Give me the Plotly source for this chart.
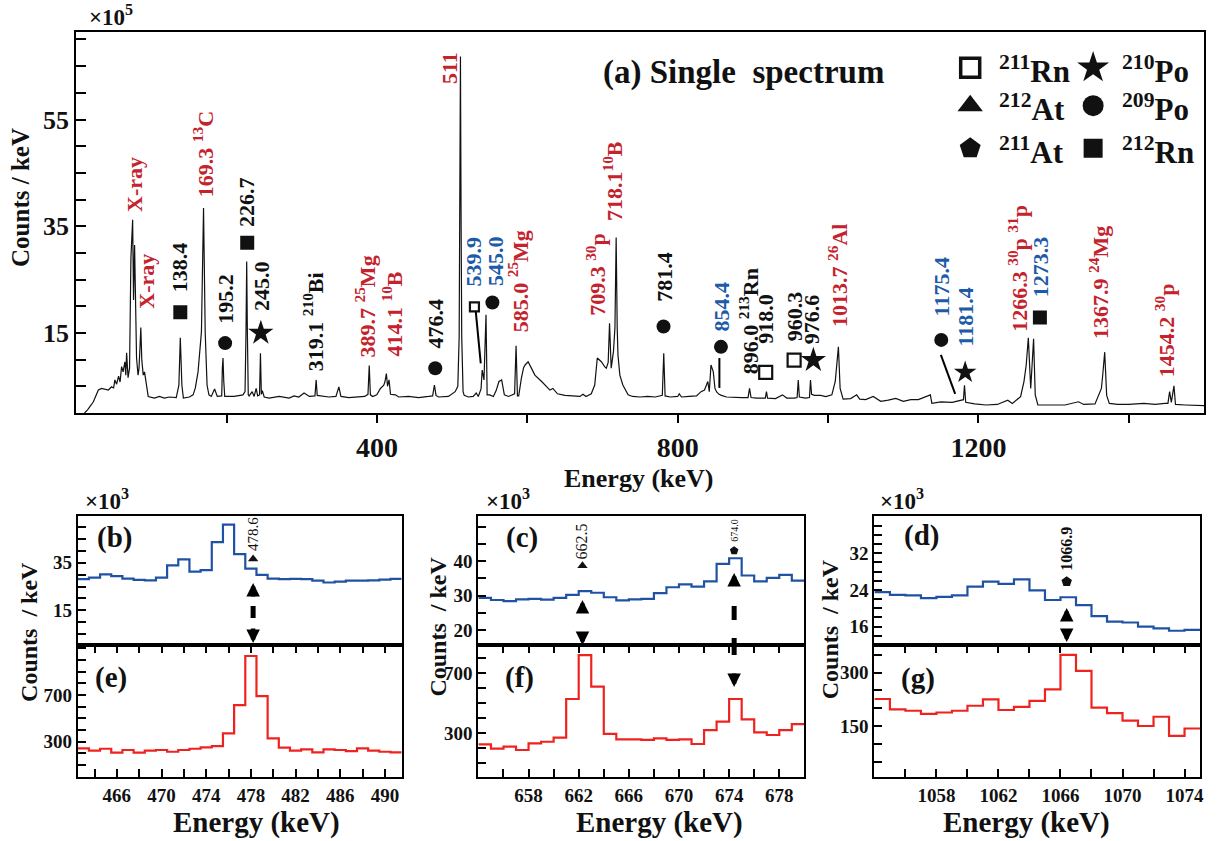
import plotly.graph_objects as go

W, H = 1217, 841
FONT = "Liberation Serif"
RED_T = "#c4222c"
BLUE_T = "#1d5aa8"
BLACK = "#111111"
LINE_BLUE = "#1f52a3"
LINE_RED = "#ee2320"

# ---------------- data: main single spectrum (x10^5 counts/keV) ----------------
spec_energy = [11, 15, 22.8, 29.4, 33.8, 37.8, 42.7, 47, 49.7, 51.4, 53.7, 56.3, 58.3, 60.3, 62.3, 64.7,
               65.9, 67, 68.9, 70.9, 72.7, 75, 76.2, 77.6, 79.3, 80.2, 82.2, 83.5, 84.6, 85.9, 87.2, 89.1,
               90.8, 93.5, 95.7, 104, 110.7, 117, 124, 133, 136.5, 138.4, 140.5, 142.5, 150.5, 155.4, 158.4,
               162, 166.5, 169.3, 171.5, 174, 176.5, 179.6, 184, 187.6, 193.5, 194.3, 195.2, 196.2, 197.5,
               201.8, 210, 221.7, 224.5, 225.8, 226.7, 227.6, 228.8, 230, 234, 236.6, 239.3, 241.3, 243.8,
               245, 246.2, 247.5, 250, 256.5, 270, 283, 289.7, 296, 303, 310, 317.5, 319.1, 320.5, 336,
               345.4, 349.3, 352, 362.4, 375.8, 383.8, 388, 389.7, 391.2, 394.4, 399.7, 404.6, 409, 410.5,
               412.5, 414, 416, 418, 424.5, 428.9, 442, 455.4, 468.7, 474, 476.4, 478.5, 481.9, 495, 504,
               507.5, 509.3, 510.2, 511, 511.8, 512.7, 514.5, 516, 521.6, 528, 532, 534.7, 538.4, 539.9,
               542.3, 545, 546.5, 550, 554.8, 558.5, 562.2, 565.8, 569.4, 575, 583, 585, 586.8, 588.5, 592,
               595, 597, 601, 605, 610, 619, 628, 630, 634, 640, 650, 660, 670, 674, 678, 685, 689.6, 693,
               698.4, 702.8, 705, 707.5, 709.3, 711.5, 714.5, 716.5, 718.1, 719.5, 720.5, 723, 727, 734,
               740, 750, 760, 770, 779.5, 781.4, 783.2, 790, 800, 802, 805, 815, 825, 831, 835.6, 840, 842,
               844.2, 847.3, 849.5, 852, 855, 858, 865, 875, 885, 893.5, 895.5, 897.5, 905, 916.5, 918,
               919.5, 930, 939.3, 945, 955, 958.8, 960.3, 961.8, 970, 975.2, 976.6, 978, 982, 990, 997,
               1005, 1009.5, 1013.7, 1016, 1020, 1030, 1038, 1042, 1050, 1060, 1070, 1080, 1090, 1100,
               1110, 1120, 1130, 1136, 1138, 1150, 1165, 1175, 1180, 1181.4, 1183, 1195, 1210, 1225, 1239,
               1245, 1256, 1260.5, 1263.5, 1266.3, 1269.5, 1273.3, 1275.5, 1279, 1290, 1300, 1315, 1333,
               1340, 1355, 1363.5, 1365.5, 1367.9, 1370.5, 1374, 1385, 1400, 1420, 1435, 1448, 1452,
               1454.2, 1456.5, 1460, 1462, 1475, 1490, 1500]
spec_counts = [0, 0.6, 2.1, 4.3, 4.6, 4.5, 4.3, 4.9, 4.7, 6.2, 5.4, 6.9, 5.8, 8.7, 7.7, 9.6,
               7.1, 11.3, 6.6, 8.4, 29, 36.2, 21.2, 31.5, 15.6, 10.3, 7.1, 8.4, 11.8, 16, 9.9, 7.1,
               7.7, 4.7, 3.1, 2.8, 3.1, 2.8, 3.0, 2.9, 5.2, 14.1, 5.2, 2.8, 3.0, 3.4, 4.7,
               7.7, 15.2, 38.4, 15.2, 5.2, 3.4, 3.1, 4.5, 3.1, 3.2, 8.4, 10.3, 6.0, 3.1,
               3.1, 3.1, 3.4, 4.0, 15.3, 28.4, 15.3, 3.4, 3.2, 4.0, 3.1, 4.6, 3.2, 3.4,
               11.2, 3.5, 4.2, 3.0, 2.8, 3.1, 2.8, 3.2, 3.0, 3.75, 3.1, 3.2, 6.2, 3.3, 3.0,
               3.1, 4.9, 3.1, 2.9, 3.0, 3.1, 3.5, 8.9, 3.4, 3.1, 3.4, 4.6, 5.2, 5.8,
               7.4, 5.0, 6.2, 3.5, 3.4, 3.0, 3.1, 2.9, 3.1, 3.2, 5.25, 3.3, 3.0, 3.1, 4.0,
               5.0, 14.3, 38, 66.8, 38, 14.3, 4.0, 3.3, 3.0, 3.1, 3.75, 3.1, 4.5, 8.06,
               6.2, 18.4, 3.4, 3.4, 3.1, 4.2, 5.9, 6.2, 3.4, 3.1, 3.6, 12.6, 3.2, 3.2, 6.5,
               8.5, 9.0, 9.6, 8.5, 7.1, 5.9, 4.6, 4.3, 4.6, 3.6, 3.3, 3.2, 3.1, 3.5, 3.1, 3.6, 5.25, 10.3,
               9.6, 8.7, 8.4, 9.5, 16.8, 8.4, 11.5, 16, 32.9, 16, 10.9, 7.1, 5.25, 3.4,
               3.1, 3.0, 3.1, 3.0, 3.3, 11.2, 3.2, 3.0, 3.1, 3.6, 3.0, 3.1, 3.2, 4.0, 4.3, 5.9, 4.0,
               9.0, 7.7, 4.6, 3.9, 3.5, 3.3, 3.0, 2.9, 2.9, 2.9, 4.6, 2.9, 2.8, 2.8, 4.0,
               2.8, 2.7, 3.4, 2.8, 2.8, 2.9, 6.2, 3.0, 2.8, 2.9, 6.2, 3.5, 3.3, 3.3, 3.06,
               3.4, 5.9, 12.4, 4.6, 2.6, 2.7, 3.4, 2.6, 2.5, 3.1, 2.2, 2.4, 2.75, 2.2,
               2.5, 2.5, 3.0, 3.4, 1.8, 2.1, 2.0, 2.4, 2.5, 5.2, 2.0, 1.7, 1.5, 1.6, 2.4,
               1.8, 3.06, 5.9, 9.0, 14.1, 4.6, 13.9, 3.4, 1.5, 1.5, 1.6, 1.5, 2.1,
               1.6, 1.7, 4.6, 7.5, 11.4, 3.3, 1.8, 1.6, 1.6, 1.8, 1.6, 1.8, 1.8,
               4.0, 2.0, 5.1, 1.6, 1.5, 1.4, 1.37]

main_xtick_vals = [200, 400, 600, 800, 1000, 1200, 1400]
main_xtick_text = ["", "400", "", "800", "", "1200", ""]
main_ytick_vals = [15, 35, 55]

# ---------------- data: zoomed panels (blue: single, x10^3; red: coincidence) ----------------
b_centers = list(range(463, 492))
b_blue = [28.1, 28.75, 30.1, 29.4, 28.3, 27.8, 27.6, 28.75, 33.9, 36.4, 31.25, 31.9, 43.6, 51.0, 38.6,
          32.5, 29.9, 28.3, 28.1, 28.2, 28.1, 27.5, 26.7, 27.1, 27.5, 27.5, 27.6, 27.9, 28.2]
e_red = [243, 223, 240, 206, 229, 206, 223, 229, 214, 229, 240, 251, 263, 371, 614,
         1034, 691, 329, 249, 223, 234, 209, 234, 229, 220, 243, 223, 214, 209]

c_centers = [654.5 + i for i in range(26)]
c_blue = [29.3, 28.7, 28.4, 28.9, 29.0, 28.8, 29.3, 30.2, 31.3, 30.8, 29.5, 28.6, 28.9, 29.0, 30.7,
          32.4, 33.2, 32.6, 34.1, 39.2, 40.8, 35.8, 34.1, 35.1, 36.0, 34.3]
f_red = [227, 198, 211, 189, 233, 244, 271, 529, 822, 611, 296, 260, 260, 256, 267, 256, 260,
         229, 322, 378, 529, 393, 307, 289, 322, 362]

d_centers = [1054.5 + i for i in range(21)]
d_blue = [23.5, 22.9, 22.8, 22.2, 22.5, 22.8, 24.7, 25.8, 25.3, 26.3, 23.9, 21.8, 22.4, 20.7, 18.3,
          17.1, 16.9, 16.0, 15.6, 15.1, 15.3]
g_red = [226, 197, 193, 184, 188, 193, 207, 225, 195, 204, 221, 253, 350, 305, 202, 186, 165,
         150, 176, 122, 143]

b_xticks = [466, 470, 474, 478, 482, 486, 490]
c_xticks = [658, 662, 666, 670, 674, 678]
d_xticks = [1058, 1062, 1066, 1070, 1074]

# ---------------- labels ----------------
main_labels = [
    (77.6, 37.5, "X-ray", RED_T),
    (93.0, 19.3, "X-ray", RED_T),
    (138.4, 22.5, "138.4", BLACK),
    (169.0, 40.3, "169.3 <sup>13</sup>C", RED_T),
    (199.0, 16.5, "195.2", BLACK),
    (227.4, 34.7, "226.7", BLACK),
    (245.5, 18.9, "245.0", BLACK),
    (316.0, 7.7, "319.1 <sup>210</sup>Bi", BLACK),
    (384.7, 10.3, "389.7 <sup>25</sup>Mg", RED_T),
    (420.0, 10.3, "414.1 <sup>10</sup>B", RED_T),
    (497.4, 61.5, "511", RED_T),
    (476.6, 11.8, "476.4", BLACK),
    (528.3, 23.6, "539.9", BLUE_T),
    (557.0, 23.6, "545.0", BLUE_T),
    (588.0, 15.0, "585.0 <sup>25</sup>Mg", RED_T),
    (691.8, 18.0, "709.3 <sup>30</sup>p", RED_T),
    (714.0, 35.8, "718.1<sup>10</sup>B", RED_T),
    (782.5, 20.6, "781.4", BLACK),
    (858.4, 15.0, "854.4", BLUE_T),
    (895.0, 7.1, "896.0 <sup>213</sup>Rn", BLACK),
    (917.0, 12.75, "918.0", BLACK),
    (954.8, 13.3, "960.3", BLACK),
    (979.0, 12.75, "976.6", BLACK),
    (1012.2, 15.9, "1013.7 <sup>26</sup>Al", RED_T),
    (1151.4, 18.0, "1175.4", BLUE_T),
    (1182.3, 12.2, "1181.4", BLUE_T),
    (1253.0, 15.0, "1266.3 <sup>30</sup>p <sup>31</sup>p", RED_T),
    (1281.7, 21.6, "1273.3", BLUE_T),
    (1361.0, 13.7, "1367.9 <sup>24</sup>Mg", RED_T),
    (1447.4, 6.6, "1454.2 <sup>30</sup>p", RED_T),
]
main_symbols = [
    ("square", 138.4, 18.9, 14), ("circle", 198.0, 13.1, 14), ("square", 227.4, 31.9, 14),
    ("star", 245.5, 15.0, 19), ("circle", 477.5, 8.4, 14), ("square-open", 529.6, 19.9, 9),
    ("circle", 553.5, 20.7, 14), ("circle", 781.1, 16.2, 14), ("circle", 857.5, 12.4, 14),
    ("square-open", 917.0, 7.6, 13), ("square-open", 954.8, 9.9, 13), ("star", 980.4, 9.9, 19),
    ("circle", 1150.5, 13.7, 14), ("star", 1182.3, 7.6, 17), ("square", 1281.7, 17.9, 14),
]
pointer_lines = [((531.4, 19.0), (538.0, 9.3)), ((855.4, 10.3), (855.4, 4.7)), ((1150.0, 10.9), (1169.0, 3.6))]

legend_items = [
    ("square-open", 1189, 64.7, 19, "<sup>211</sup>Rn"),
    ("triangle-up", 1189, 57.6, 22, "<sup>212</sup>At"),
    ("pentagon", 1189, 49.6, 22, "<sup>211</sup>At"),
    ("star", 1352.5, 64.7, 24, "<sup>210</sup>Po"),
    ("circle", 1352.5, 57.6, 21, "<sup>209</sup>Po"),
    ("square", 1352.5, 49.6, 19, "<sup>212</sup>Rn"),
]


def px_x(p):
    return p / W


def px_y(p):
    return 1 - p / H


def step_xy(centers, values, width=1.0):
    xs = [c - width / 2 for c in centers] + [centers[-1] + width / 2]
    ys = list(values) + [values[-1]]
    return xs, ys


fig = go.Figure()
fig.add_trace(go.Scatter(x=spec_energy, y=spec_counts, mode="lines",
                         line=dict(color=BLACK, width=1.2), xaxis="x", yaxis="y"))

for sym, xv, yv, sz in main_symbols:
    open_ = sym.endswith("open")
    fig.add_trace(go.Scatter(x=[xv], y=[yv], mode="markers", xaxis="x", yaxis="y",
                             marker=dict(symbol=sym, size=sz, color=BLACK,
                                         line=dict(color=BLACK, width=2.2 if open_ else 0))))
for sym, xv, yv, sz, _t in legend_items:
    open_ = sym.endswith("open")
    fig.add_trace(go.Scatter(x=[xv], y=[yv], mode="markers", xaxis="x", yaxis="y",
                             marker=dict(symbol=sym, size=sz, color=BLACK,
                                         line=dict(color=BLACK, width=3.5 if open_ else 0))))

panels = [
    (b_centers, b_blue, e_red, "x2", "y2", "x3", "y3"),
    (c_centers, c_blue, f_red, "x4", "y4", "x5", "y5"),
    (d_centers, d_blue, g_red, "x6", "y6", "x7", "y7"),
]
for cen, blue, red, xb, yb, xr, yr in panels:
    xs, ys = step_xy(cen, blue)
    fig.add_trace(go.Scatter(x=xs, y=ys, mode="lines", line=dict(color=LINE_BLUE, width=2.2, shape="hv"),
                             xaxis=xb, yaxis=yb))
    xs, ys = step_xy(cen, red)
    fig.add_trace(go.Scatter(x=xs, y=ys, mode="lines", line=dict(color=LINE_RED, width=2.2, shape="hv"),
                             xaxis=xr, yaxis=yr))

# small markers in zoomed panels
small_marks = [("triangle-up", 478.2, 36.6, 9, "x2", "y2"), ("triangle-up", 662.3, 38.6, 9, "x4", "y4"),
               ("pentagon", 674.4, 43.0, 9, "x4", "y4"), ("pentagon", 1066.4, 25.8, 11, "x6", "y6")]
for sym, xv, yv, sz, xa, ya in small_marks:
    fig.add_trace(go.Scatter(x=[xv], y=[yv], mode="markers", xaxis=xa, yaxis=ya,
                             marker=dict(symbol=sym, size=sz, color=BLACK, line=dict(width=0))))

# ---------------- annotations ----------------
ann = []


def txt(x, y, text, size, color=BLACK, xref="paper", yref="paper", angle=0, xanchor="center",
        yanchor="middle", bold=True):
    ann.append(dict(x=x, y=y, xref=xref, yref=yref, text=text, showarrow=False, textangle=angle,
                    xanchor=xanchor, yanchor=yanchor, borderpad=0,
                    font=dict(family=FONT, size=size, color=color, weight="bold" if bold else "normal")))


for xv, yv, t, col in main_labels:
    txt(xv, yv, t, 22, col, xref="x", yref="y", angle=-90, yanchor="bottom")

txt(px_x(746), px_y(72), "(a) Single\u00a0 spectrum", 33, BLACK)
for sym, xv, yv, sz, t in legend_items:
    lx = 1001.7 if xv < 1300 else 1125
    ly = {64.7: 70, 57.6: 108, 49.6: 150}[yv]
    txt(px_x(lx), px_y(ly), t, 31, BLACK, xanchor="left")

txt(px_x(111), px_y(16), "\u00d710<sup>5</sup>", 23)
txt(px_x(20), px_y(197), "Counts / keV", 25, angle=-90)
txt(px_x(641), px_y(478), "Energy (keV)", 26)

for cx in (107, 510, 905):
    txt(px_x(cx), px_y(499), "\u00d710<sup>3</sup>", 23)
for cx, cy in ((29, 632), (439, 627), (833, 629)):
    txt(px_x(cx), px_y(cy), "Counts\u00a0 / keV", 24, angle=-90)
for cx in (257, 662, 1030):
    txt(px_x(cx), px_y(822), "Energy (keV)", 29)
for t, cx, cy in (("(b)", 115, 537), ("(e)", 111, 677), ("(c)", 524, 537), ("(f)", 521, 677),
                  ("(d)", 925, 535), ("(g)", 921, 678)):
    txt(px_x(cx), px_y(cy), t, 29)

# small rotated energy labels in zoomed panels
txt(478.2, 39.5, "478.6", 15, xref="x2", yref="y2", angle=-90, yanchor="bottom", bold=False)
txt(662.3, 40.3, "662.5", 16, xref="x4", yref="y4", angle=-90, yanchor="bottom", bold=False)
txt(674.4, 45.2, "674.0", 10, xref="x4", yref="y4", angle=-90, yanchor="bottom", bold=False)
txt(1066.4, 27.9, "1066.9", 16, xref="x6", yref="y6", angle=-90, yanchor="bottom")


def arrow(xv, xref, head_py, tail_py):
    ann.append(dict(x=xv, y=px_y(head_py), xref=xref, yref="paper", ax=0, ay=tail_py - head_py,
                    axref="pixel", ayref="pixel", text="", showarrow=True, arrowhead=2,
                    arrowsize=0.6, arrowwidth=4.5, arrowcolor="black"))


shapes = []


def dash(xv, xref, y0, y1):
    shapes.append(dict(type="line", xref=xref, yref="paper", x0=xv, x1=xv, y0=px_y(y0), y1=px_y(y1),
                       line=dict(color="black", width=5)))


arrow(478.2, "x3", 583, 598); dash(478.2, "x3", 606, 618); arrow(478.2, "x3", 643, 627)
arrow(662.3, "x5", 600, 611); arrow(662.3, "x5", 645, 634)
arrow(674.4, "x5", 573, 587); dash(674.4, "x5", 606, 620); dash(674.4, "x5", 638, 655); arrow(674.4, "x5", 687, 672)
arrow(1066.4, "x7", 608, 620); arrow(1066.4, "x7", 642, 630)

for (x0, y0), (x1, y1) in pointer_lines:
    shapes.append(dict(type="line", xref="x", yref="y", x0=x0, y0=y0, x1=x1, y1=y1,
                       line=dict(color="black", width=2)))

# ---------------- axes ----------------
def base_axis(**kw):
    d = dict(showline=True, linecolor="black", linewidth=2, mirror=True, showgrid=False, zeroline=False,
             tickcolor="black")
    d.update(kw)
    return d


TOPY = [px_y(645), px_y(515.5)]
BOTY = [px_y(777), px_y(645)]
BX = [px_x(78), px_x(403)]
CX = [px_x(480), px_x(807)]
DX = [px_x(877.3), px_x(1204)]
tick_small = dict(family=FONT, size=19, color=BLACK, weight="bold")

layout = dict(
    width=W, height=H, margin=dict(l=0, r=0, t=0, b=0), paper_bgcolor="white", plot_bgcolor="white",
    showlegend=False, annotations=ann, shapes=shapes,
    xaxis=base_axis(domain=[px_x(76.5), px_x(1208)], range=[0, 1500], anchor="y",
                    tickvals=main_xtick_vals, ticktext=main_xtick_text, ticks="outside", ticklen=8, tickwidth=2,
                    tickfont=dict(family=FONT, size=28, color=BLACK, weight="bold")),
    yaxis=base_axis(domain=[px_y(413), px_y(32)], range=[0, 71.4], anchor="x",
                    tickvals=main_ytick_vals, ticks="inside", ticklen=10, tickwidth=1.5,
                    minor=dict(tick0=0, dtick=5, ticks="inside", ticklen=10, tickwidth=1.5, tickcolor="black"),
                    tickfont=dict(family=FONT, size=26, color=BLACK, weight="bold")),
)

specs = [
    ("xaxis2", "yaxis2", "xaxis3", "yaxis3", BX, [462.5, 491.5], [0.5, 54.8], [15, 35], 5, [-2, 1128], [300, 700], 100, b_xticks),
    ("xaxis4", "yaxis4", "xaxis5", "yaxis5", CX, [654, 680], [15.65, 53.2], [20, 30, 40], 5, [9, 889], [300, 700], 100, c_xticks),
    ("xaxis6", "yaxis6", "xaxis7", "yaxis7", DX, [1054, 1075], [12.0, 40.2], [16, 24, 32], 2, [6.5, 378], [150, 300], 50, d_xticks),
]
for xb, yb, xr, yr, dom, xr_rng, yb_rng, yb_ticks, yb_minor, yr_rng, yr_ticks, yr_minor, xticks in specs:
    nb = xb.replace("axis", ""); nyb = yb.replace("axis", "")
    nr = xr.replace("axis", ""); nyr = yr.replace("axis", "")
    layout[xb] = base_axis(domain=dom, range=xr_rng, anchor=nyb, showticklabels=False, ticks="")
    layout[yb] = base_axis(domain=TOPY, range=yb_rng, anchor=nb, tickvals=yb_ticks, ticks="inside",
                           ticklen=8, tickwidth=1.5, tickfont=tick_small,
                           minor=dict(dtick=yb_minor, tick0=0, ticks="inside", ticklen=8, tickwidth=1.5,
                                      tickcolor="black"))
    layout[xr] = base_axis(domain=dom, range=xr_rng, anchor=nyr, tickvals=xticks, ticks="inside", mirror="ticks",
                           ticklen=8, tickwidth=2, tickfont=tick_small,
                           minor=dict(dtick=2, tick0=0, ticks="inside", ticklen=8, tickwidth=2, tickcolor="black"))
    layout[yr] = base_axis(domain=BOTY, range=yr_rng, anchor=nr, tickvals=yr_ticks, ticks="inside",
                           ticklen=8, tickwidth=1.5, tickfont=tick_small,
                           minor=dict(dtick=yr_minor, tick0=0, ticks="inside", ticklen=8, tickwidth=1.5,
                                      tickcolor="black"))

fig.update_layout(**layout)
fig.write_html("out.html")
